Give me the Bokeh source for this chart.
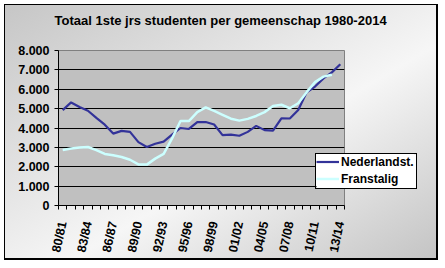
from bokeh.plotting import figure
from bokeh.models import Range1d, FixedTicker, Legend, LegendItem, Title
from bokeh.embed import file_html
from bokeh.resources import INLINE

title_text = "Totaal 1ste jrs studenten per gemeenschap 1980-2014"

categories = ["80/81", "81/82", "82/83", "83/84", "84/85", "85/86", "86/87", "87/88",
              "88/89", "89/90", "90/91", "91/92", "92/93", "93/94", "94/95", "95/96",
              "96/97", "97/98", "98/99", "99/00", "00/01", "01/02", "02/03", "03/04",
              "04/05", "05/06", "06/07", "07/08", "08/09", "09/10", "10/11", "11/12",
              "12/13", "13/14"]

nederlandst = [4920, 5320, 5080, 4890, 4520, 4170, 3710, 3850, 3800, 3270, 3020, 3190,
               3300, 3660, 4000, 3950, 4300, 4310, 4180, 3630, 3660, 3600, 3800, 4110,
               3890, 3860, 4500, 4490, 4930, 5840, 6140, 6560, 6870, 7290]

franstalig = [2860, 2940, 2990, 3020, 2860, 2660, 2590, 2500, 2360, 2120, 2110, 2420,
              2660, 3460, 4360, 4360, 4820, 5060, 4880, 4680, 4480, 4380, 4470, 4620,
              4820, 5130, 5200, 5020, 5280, 5850, 6370, 6650, 6750]

series_names = ["Nederlandst.", "Franstalig"]
series_colors = ["#333399", "#ccffff"]
series_widths = [2.2, 2.5]

y_ticks = [0, 1000, 2000, 3000, 4000, 5000, 6000, 7000, 8000]
y_tick_labels = ["0", "1.000", "2.000", "3.000", "4.000", "5.000", "6.000", "7.000", "8.000"]

label_every = 3

FONT = "Liberation Sans"

n = len(categories)
x_all = list(range(n))
series_values = [nederlandst, franstalig]

p = figure(width=434, height=256, output_backend="svg", toolbar_location=None,
           x_range=Range1d(-0.5, n - 0.5), y_range=Range1d(0, 8000),
           min_border_left=53, min_border_right=95, min_border_top=45,
           min_border_bottom=56)

p.styles = {
    "margin-left": "4px",
    "margin-top": "4px",
    "border": "1px solid black",
    "border-right-width": "2px",
    "border-bottom-width": "2px",
    "background": "linear-gradient(to bottom right, #c6c6c6 0%, #f6f6f6 58%, #c4c4c4 100%)",
}
p.border_fill_color = None
p.background_fill_color = "#c0c0c0"
p.outline_line_color = "#808080"
p.outline_line_width = 1

# real title (outermost), spacer title next to the frame
p.title.text = title_text
p.title.text_font = FONT
p.title.text_font_style = "bold"
p.title.text_font_size = "13px"
p.title.align = "left"
p.title.offset = -4
p.title.standoff = 8
p.title.text_color = "black"
spacer = Title(text=" ", text_font_size="16px", standoff=0)
p.add_layout(spacer, "above")

# y axis
p.yaxis.ticker = FixedTicker(ticks=y_ticks)
p.yaxis.major_label_overrides = {t: l for t, l in zip(y_ticks, y_tick_labels)}
p.yaxis.major_label_text_font = FONT
p.yaxis.major_label_text_font_style = "bold"
p.yaxis.major_label_text_font_size = "12.5px"
p.yaxis.major_label_text_color = "black"
p.yaxis.major_tick_in = 0
p.yaxis.major_tick_out = 4
p.yaxis.minor_tick_line_color = None
p.yaxis.axis_line_color = "black"
p.yaxis.major_tick_line_color = "black"
p.yaxis.major_label_standoff = 5

p.ygrid.ticker = FixedTicker(ticks=y_ticks)
p.ygrid.grid_line_color = "black"
p.ygrid.grid_line_width = 1
p.xgrid.visible = False

# x axis
shown = x_all[::label_every]
p.xaxis.ticker = FixedTicker(ticks=shown, minor_ticks=[i - 0.5 for i in range(n + 1)])
p.xaxis.major_label_overrides = {i: categories[i] for i in shown}
p.xaxis.major_label_orientation = 1.36
p.xaxis.major_label_text_font = FONT
p.xaxis.major_label_text_font_style = "bold"
p.xaxis.major_label_text_font_size = "12.5px"
p.xaxis.major_label_text_color = "black"
p.xaxis.major_tick_in = 0
p.xaxis.major_tick_out = 0
p.xaxis.minor_tick_in = 0
p.xaxis.minor_tick_out = 4
p.xaxis.minor_tick_line_color = "black"
p.xaxis.axis_line_color = "black"
p.xaxis.major_label_standoff = 12

for vals, col, w in zip(series_values, series_colors, series_widths):
    p.line(x_all[:len(vals)], vals, line_color=col, line_width=w)

# legend box, drawn as a small figure laid over the chart (its own copies of the
# series lie outside its visible ranges, only their legend swatches show)
leg = figure(width=102, height=36, output_backend="svg", toolbar_location=None,
             x_axis_type=None, y_axis_type=None, min_border=0,
             x_range=Range1d(-1000, -999), y_range=Range1d(-1000, -999))
leg.styles = {"position": "absolute", "left": "315px", "top": "153px",
              "border": "1px solid black"}
leg.background_fill_color = "white"
leg.border_fill_color = "white"
leg.outline_line_color = None
leg.grid.visible = False
items = []
for name, vals, col, w in zip(series_names, series_values, series_colors, series_widths):
    rr = leg.line(x_all[:len(vals)], vals, line_color=col, line_width=w)
    items.append(LegendItem(label=name, renderers=[rr]))
legend = Legend(items=items, location="top_left", margin=0)
legend.background_fill_color = "white"
legend.background_fill_alpha = 1
legend.border_line_color = None
legend.label_text_font = FONT
legend.label_text_font_style = "bold"
legend.label_text_font_size = "12px"
legend.label_text_color = "black"
legend.glyph_width = 23
legend.glyph_height = 15
legend.label_height = 15
legend.label_standoff = 2
legend.spacing = 2
legend.padding = 3
leg.add_layout(legend)

open("out.html", "w").write(file_html([p, leg], INLINE))
